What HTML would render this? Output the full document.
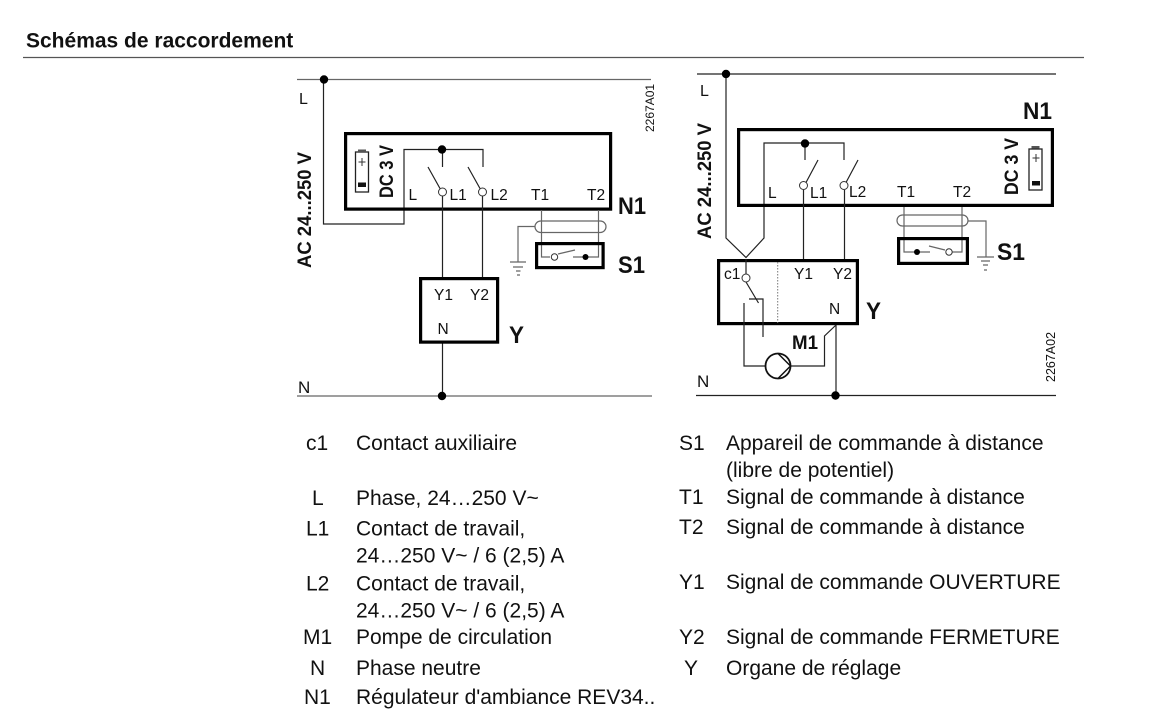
<!DOCTYPE html>
<html><head><meta charset="utf-8"><style>
html,body{margin:0;padding:0;background:#fff}
svg{display:block}
text{font-family:"Liberation Sans",sans-serif;fill:#111}
.b{font-weight:bold}
.s{font-size:15.5px}
.t{font-size:21px}
.w{fill:none;stroke:#222;stroke-width:1.2}
.g{fill:none;stroke:#666;stroke-width:1.2}
.k{fill:none;stroke:#000;stroke-width:3.2}
.c{fill:#fff;stroke:#333;stroke-width:1}
</style></head><body>
<svg width="1150" height="725" viewBox="0 0 1150 725" xmlns="http://www.w3.org/2000/svg">
<text x="26" y="47.5" class="b" font-size="21">Schémas de raccordement</text>
<path d="M23 57.500H1084" fill="none" stroke="#555" stroke-width="1.200"/>

<!-- Left diagram -->
<path class="g" d="M297 79.500H651M297 396H652"/>
<path class="w" d="M323.500 79.500V224H404V149.500H483V167M442.500 149.500V167"/>
<circle cx="324" cy="79.500" r="4.200"/><circle cx="442" cy="149.500" r="4.200"/>
<rect class="k" x="345.600" y="133.600" width="265" height="75.500"/>
<path class="w" d="M428 167L440 188.500M468 167L480 188.500M442.500 196V277M442.500 343V396M482.500 196V277"/>
<circle class="c" cx="442.500" cy="192" r="4"/><circle class="c" cx="482.500" cy="192" r="4"/>
<rect class="k" x="420.600" y="278.600" width="77" height="63.500"/>
<circle cx="442" cy="396" r="4.200"/>
<path class="g" d="M541.500 210V257H550M598.500 210V257H573M558 254L575 250"/>
<rect class="k" x="536.600" y="243.600" width="66.500" height="24"/>
<circle class="c" cx="554.500" cy="257" r="3.200"/><circle cx="585.500" cy="257" r="3"/>
<rect class="g" x="535" y="221" width="71" height="11.500" rx="5.700"/>
<path class="g" d="M535 226.500H518V262M510 262H526M513 267H523M516 271H520.500M517 275H520"/>
<!-- left battery -->
<rect x="355.500" y="152" width="13" height="40" fill="none" stroke="#222" stroke-width="1.300"/>
<rect x="358" y="149.500" width="8" height="2.500" fill="#555"/>
<rect x="358" y="182.500" width="8" height="4.500" fill="#111"/>
<path d="M362 158V166M358.500 162H365.500" stroke="#333" fill="none"/>

<text x="299" y="104" font-size="16">L</text>
<text x="298" y="393" font-size="17">N</text>
<text x="408.500" y="200" class="s">L</text>
<text x="449.500" y="200" class="s">L1</text>
<text x="490.500" y="200" class="s">L2</text>
<text x="531" y="200" class="s">T1</text>
<text x="587" y="200" class="s">T2</text>
<text x="434" y="300" class="s">Y1</text>
<text x="470" y="300" class="s">Y2</text>
<text x="437.500" y="334" class="s">N</text>
<text x="618" y="214" class="b" font-size="24" textLength="28" lengthAdjust="spacingAndGlyphs">N1</text>
<text x="618" y="273" class="b" font-size="24" textLength="27" lengthAdjust="spacingAndGlyphs">S1</text>
<text x="509" y="343" class="b" font-size="24" textLength="15" lengthAdjust="spacingAndGlyphs">Y</text>
<text transform="translate(311 268) rotate(-90)" class="b" font-size="19" textLength="116" lengthAdjust="spacingAndGlyphs">AC 24...250 V</text>
<text transform="translate(393 198) rotate(-90)" class="b" font-size="19" textLength="53" lengthAdjust="spacingAndGlyphs">DC 3 V</text>
<text transform="translate(654 132) rotate(-90)" font-size="12">2267A01</text>

<!-- Right diagram -->
<path class="w" d="M697 74H1056M696 395.500H1056"/>
<path class="w" d="M726 74V238L746 257.500L764 238V143H844V160M805 143V160"/>
<circle cx="726" cy="74" r="4.200"/><circle cx="805" cy="143.500" r="4.200"/>
<rect class="k" x="738.600" y="129.600" width="313.800" height="75.800"/>
<path class="w" d="M818 160L806 182.500M858 160L846 182.500M803.500 190V259M844.500 190V259"/>
<circle class="c" cx="803.500" cy="185.500" r="4"/><circle class="c" cx="844" cy="185.500" r="4"/>
<path class="g" d="M904 207V252H930M962 207V252H952M929 246L945 250"/>
<rect class="k" x="898.600" y="238.600" width="68.800" height="24.800"/>
<circle cx="917" cy="252" r="3"/><circle class="c" cx="949" cy="252" r="3.200"/>
<rect class="g" x="897" y="215" width="71" height="11" rx="5.500"/>
<path class="g" d="M968 221H986V257M977 257H994M981 261H990M983 265H988M984 270H987"/>
<rect class="k" x="718.600" y="260.600" width="138.800" height="63"/>
<path d="M777.700 262V323" fill="none" stroke="#777" stroke-width="1" stroke-dasharray="1.500 1.500"/>
<path class="w" d="M746 259V274M746 282L758.500 303M749 299H763V337"/>
<circle class="c" cx="746" cy="278" r="4"/>
<path class="w" d="M744 303V366H765M791 366H824.500V336L836 325M836 325V396"/>
<circle cx="778" cy="366" r="12.500" fill="#fff" stroke="#111" stroke-width="1.800"/>
<path d="M778 353.500L790.500 366L778 378.500" fill="none" stroke="#111" stroke-width="1.500"/>
<circle cx="835.500" cy="395.500" r="4.200"/>
<!-- right battery -->
<rect x="1029" y="149" width="13" height="41" fill="none" stroke="#222" stroke-width="1.300"/>
<rect x="1031.500" y="146" width="8" height="2.500" fill="#555"/>
<rect x="1032" y="181" width="8" height="4.500" fill="#111"/>
<path d="M1036 154V162M1032.500 158H1039.500" stroke="#333" fill="none"/>

<text x="700" y="96" font-size="16">L</text>
<text x="697" y="387" font-size="17">N</text>
<text x="768" y="198" class="s">L</text>
<text x="810" y="198" class="s">L1</text>
<text x="849" y="197" class="s">L2</text>
<text x="897" y="197" class="s">T1</text>
<text x="953" y="197" class="s">T2</text>
<text x="794" y="279" class="s">Y1</text>
<text x="833" y="279" class="s">Y2</text>
<text x="724" y="279" class="s">c1</text>
<text x="829" y="314" class="s">N</text>
<text x="1023" y="119" class="b" font-size="24" textLength="29" lengthAdjust="spacingAndGlyphs">N1</text>
<text x="997" y="260" class="b" font-size="24" textLength="28" lengthAdjust="spacingAndGlyphs">S1</text>
<text x="866" y="319" class="b" font-size="24" textLength="15" lengthAdjust="spacingAndGlyphs">Y</text>
<text x="792" y="349" class="b" font-size="19.500" textLength="26" lengthAdjust="spacingAndGlyphs">M1</text>
<text transform="translate(711 239) rotate(-90)" class="b" font-size="19" textLength="116" lengthAdjust="spacingAndGlyphs">AC 24...250 V</text>
<text transform="translate(1018 195) rotate(-90)" class="b" font-size="19" textLength="57" lengthAdjust="spacingAndGlyphs">DC 3 V</text>
<text transform="translate(1055 382) rotate(-90)" font-size="12.500">2267A02</text>

<!-- Legend left -->
<g>
<text x="306" y="450" class="t">c1</text><text x="356" y="450" class="t">Contact auxiliaire</text>
<text x="312" y="505" class="t">L</text><text x="356" y="505" class="t">Phase, 24…250 V~</text>
<text x="306" y="535.500" class="t">L1</text><text x="356" y="535.500" class="t">Contact de travail,</text>
<text x="356" y="562.500" class="t">24…250 V~ / 6 (2,5) A</text>
<text x="306" y="590.500" class="t">L2</text><text x="356" y="590.500" class="t">Contact de travail,</text>
<text x="356" y="617.500" class="t">24…250 V~ / 6 (2,5) A</text>
<text x="303" y="644" class="t">M1</text><text x="356" y="644" class="t">Pompe de circulation</text>
<text x="310" y="675" class="t">N</text><text x="356" y="675" class="t">Phase neutre</text>
<text x="304" y="704" class="t">N1</text><text x="356" y="704" class="t">Régulateur d'ambiance REV34..</text>
</g>
<!-- Legend right -->
<g>
<text x="679" y="450" class="t">S1</text><text x="726" y="450" class="t">Appareil de commande à distance</text>
<text x="726" y="477" class="t">(libre de potentiel)</text>
<text x="679" y="504" class="t">T1</text><text x="726" y="504" class="t">Signal de commande à distance</text>
<text x="679" y="534" class="t">T2</text><text x="726" y="534" class="t">Signal de commande à distance</text>
<text x="679" y="589" class="t">Y1</text><text x="726" y="589" class="t">Signal de commande OUVERTURE</text>
<text x="679" y="644" class="t">Y2</text><text x="726" y="644" class="t">Signal de commande FERMETURE</text>
<text x="684" y="675" class="t">Y</text><text x="726" y="675" class="t">Organe de réglage</text>
</g>
</svg>
</body></html>
